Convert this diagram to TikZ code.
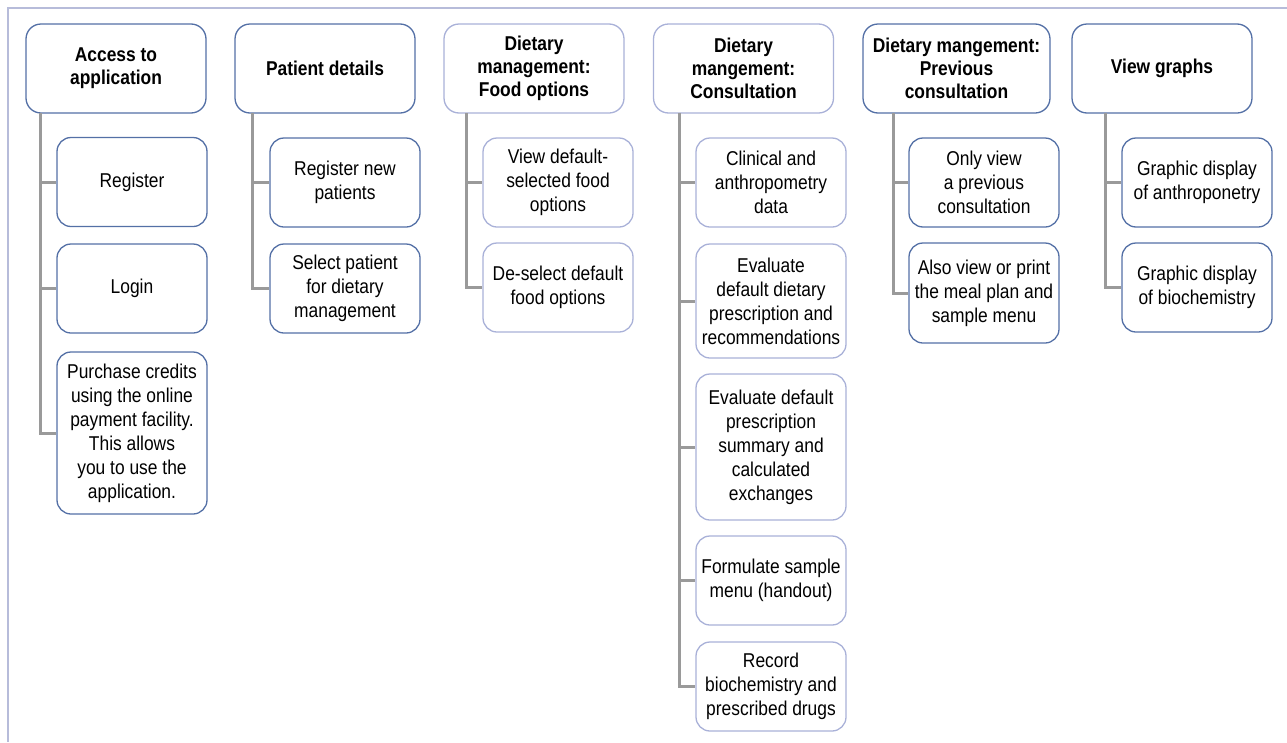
\documentclass[tikz,border=0pt]{standalone}
\usepackage{fontspec}
\setmainfont{Liberation Sans}[FakeStretch=0.87]
\begin{document}
\begin{tikzpicture}[x=1pt,y=-1pt,
  darkb/.style={draw=boxdark},
  lightb/.style={draw=boxlight},
  hdr/.style={rounded corners=15pt, line width=1.3pt, fill=white, inner sep=0pt,
    minimum width=180pt, minimum height=89pt, align=center,
    font=\fontsize{20}{23}\selectfont\bfseries},
  child/.style={rounded corners=14pt, line width=1.3pt, fill=white, inner sep=0pt,
    minimum width=150pt, minimum height=89pt, align=center,
    font=\fontsize{20}{24}\selectfont},
  conn/.style={draw=conngray, line width=3pt}]
\definecolor{boxdark}{HTML}{5470A6}
\definecolor{boxlight}{HTML}{A9B1D8}
\definecolor{conngray}{HTML}{9A9A9A}
\definecolor{framec}{HTML}{B7BCDA}
\useasboundingbox (0,0) rectangle (1287,742);
\draw[framec, line width=2pt] (1287,7.5) -- (7.5,7.5) -- (7.5,742);

% headers
\node[hdr,darkb] (h1) at (116,68.5) {Access to\\application};
\node[hdr,darkb] (h2) at (325,68.5) {Patient details};
\node[hdr,lightb] (h3) at (534,68.5) {Dietary\\management:\\Food options};
\node[hdr,lightb] (h4) at (743.5,68.5) {Dietary\\mangement:\\Consultation};
\node[hdr,darkb,minimum width=187pt] (h5) at (956.5,68.5) {Dietary mangement:\\Previous\\consultation};
\node[hdr,darkb] (h6) at (1162,68.5) {View graphs};

% trunk tops
\coordinate (t1) at (40,113);
\coordinate (t2) at (252,113);
\coordinate (t3) at (466,113);
\coordinate (t4) at (679,113);
\coordinate (t5) at (893,113);
\coordinate (t6) at (1105,113);

% column 1
\node[child,darkb] (c1a) at (132,182) {Register};
\node[child,darkb] (c1b) at (132,288.5) {Login};
\node[child,darkb,minimum height=162pt] (c1c) at (132,433) {Purchase credits\\using the online\\payment facility.\\This allows\\you to use the\\application.};
% column 2
\node[child,darkb] (c2a) at (345,182.5) {Register new\\patients};
\node[child,darkb] (c2b) at (345,288.5) {Select patient\\for dietary\\management};
% column 3
\node[child,lightb] (c3a) at (558,182.5) {View default-\\selected food\\options};
\node[child,lightb] (c3b) at (558,287.5) {De-select default\\food options};
% column 4
\node[child,lightb] (c4a) at (771,182.5) {Clinical and\\anthropometry\\data};
\node[child,lightb,minimum height=114pt] (c4b) at (771,301) {Evaluate\\default dietary\\prescription and\\recommendations};
\node[child,lightb,minimum height=146pt] (c4c) at (771,447) {Evaluate default\\prescription\\summary and\\calculated\\exchanges};
\node[child,lightb] (c4d) at (771,580.5) {Formulate sample\\menu (handout)};
\node[child,lightb] (c4e) at (771,686.5) {Record\\biochemistry and\\prescribed drugs};
% column 5
\node[child,darkb] (c5a) at (984,182.5) {Only view\\a previous\\consultation};
\node[child,darkb,minimum height=100pt] (c5b) at (984,293) {Also view or print\\the meal plan and\\sample menu};
% column 6
\node[child,darkb] (c6a) at (1197,182.5) {Graphic display\\of anthroponetry};
\node[child,darkb] (c6b) at (1197,287.5) {Graphic display\\of biochemistry};

% connectors
\draw[conn] (t1) |- (c1a.west);
\draw[conn] (t1) |- (c1b.west);
\draw[conn] (t1) |- (c1c.west);
\draw[conn] (t2) |- (c2a.west);
\draw[conn] (t2) |- (c2b.west);
\draw[conn] (t3) |- (c3a.west);
\draw[conn] (t3) |- (c3b.west);
\draw[conn] (t4) |- (c4a.west);
\draw[conn] (t4) |- (c4b.west);
\draw[conn] (t4) |- (c4c.west);
\draw[conn] (t4) |- (c4d.west);
\draw[conn] (t4) |- (c4e.west);
\draw[conn] (t5) |- (c5a.west);
\draw[conn] (t5) |- (c5b.west);
\draw[conn] (t6) |- (c6a.west);
\draw[conn] (t6) |- (c6b.west);
\end{tikzpicture}
\end{document}
